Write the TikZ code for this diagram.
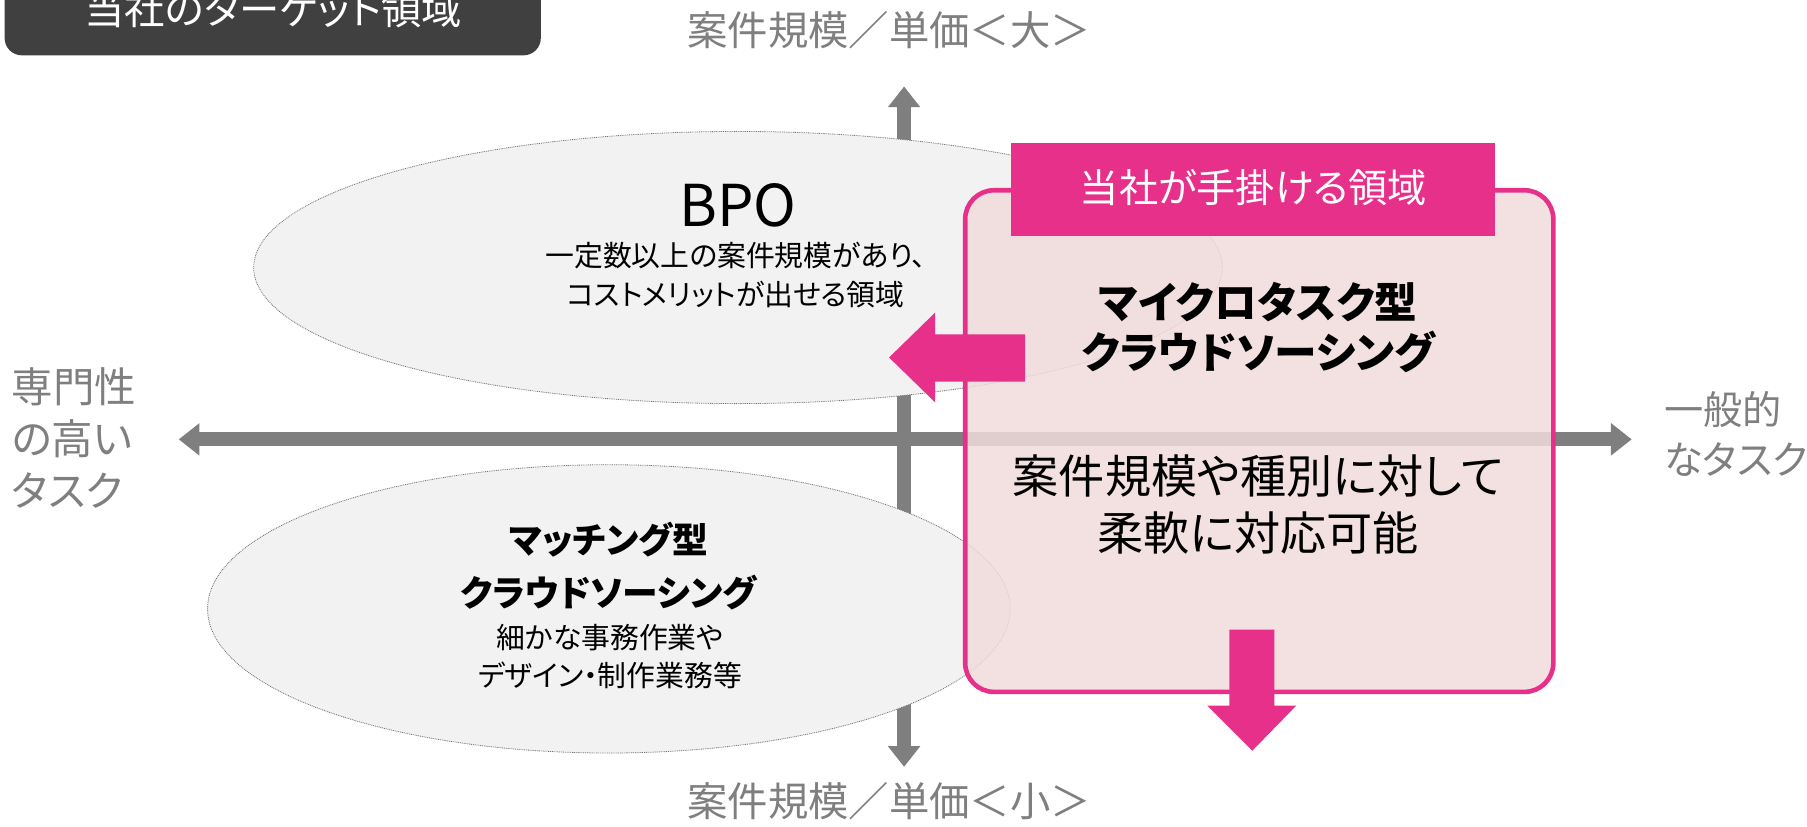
\documentclass[tikz,border=0pt]{standalone}
\usepackage{fontspec}
\setmainfont{Noto Sans CJK JP}[RawFeature=+palt]
\usetikzlibrary{shapes.geometric,arrows.meta}
\definecolor{axisgray}{HTML}{7F7F7F}
\definecolor{pinkc}{HTML}{E6308A}
\definecolor{boxfill}{RGB}{240,220,219}
\definecolor{ellfill}{HTML}{F2F2F2}
\definecolor{titlebg}{HTML}{404040}
\begin{document}
\begin{tikzpicture}[x=1pt,y=-1pt,
  axisline/.style={draw=axisgray, line width=12pt,
    {Triangle[width=27pt,length=18pt]}-{Triangle[width=27pt,length=18pt]}},
  ell/.style={ellipse, fill=ellfill, draw=black!55, line width=0.7pt,
    dash pattern=on 0.8pt off 0.8pt, inner sep=0pt},
  lbl/.style={text=axisgray, inner sep=0pt},
  txt/.style={text=black, inner sep=0pt, align=center},
  pinkarrow/.style={fill=pinkc, draw=none}]
\useasboundingbox (0,0) rectangle (1567,716.3);

% title
\node[fill=titlebg, rounded corners=15pt, minimum width=465pt, minimum height=80pt, inner sep=0pt] (title) at (236.5,8) {};
\node[text=white, inner sep=0pt, font=\fontsize{35}{40}\selectfont] (titletext) at (237,8) {当社のターゲット領域};

% axes
\coordinate (atop) at (784,75);
\coordinate (abot) at (784,665);
\coordinate (aleft) at (155,381);
\coordinate (aright) at (1415,381);
\draw[axisline] (aleft) -- (aright);
\draw[axisline] (atop) -- (abot);

% axis labels
\node[lbl, font=\fontsize{35}{40}\selectfont] (ltop) at (771,26.5) {案件規模／単価＜大＞};
\node[lbl, font=\fontsize{35}{40}\selectfont] (lbot) at (771,695) {案件規模／単価＜小＞};
\node[lbl, anchor=west, align=left, font=\fontsize{36}{45}\selectfont] (lleft) at (10,380) {専門性\\の高い\\タスク};
\node[lbl, anchor=west, align=left, font=\fontsize{34}{43}\selectfont] (lright) at (1443,376.5) {一般的\\なタスク};

% ellipses
\node[ell, minimum width=840pt, minimum height=236pt] (bpo) at (640,232) {};
\node[ell, minimum width=696pt, minimum height=250pt] (match) at (528,528) {};

\node[txt, font=\fontsize{50}{56}\selectfont] (bpot) at (640,178) {BPO};
\node[txt, font=\fontsize{25}{33}\selectfont] (bpod) at (638,238.5) {一定数以上の案件規模があり、\\コストメリットが出せる領域};
\node[txt, font=\bfseries\fontsize{31}{46}\selectfont] (matcht) at (528,491) {マッチング型\\クラウドソーシング};
\node[txt, font=\fontsize{25}{33}\selectfont] (matchd) at (529,569.5) {細かな事務作業や\\デザイン・制作業務等};

% pink box
\node[draw=pinkc, line width=4pt, rounded corners=25pt, fill=boxfill, fill opacity=0.85,
  minimum width=510pt, minimum height=435pt, inner sep=0pt] (box) at (1092,382.5) {};
\node[fill=pinkc, minimum width=419pt, minimum height=81pt, inner sep=0pt] (head) at (1086.5,164.5) {};
\node[text=white, inner sep=0pt, font=\fontsize{34}{40}\selectfont] (headt) at (1087,163) {当社が手掛ける領域};

\node[txt, font=\bfseries\fontsize{37}{44}\selectfont] (micro) at (1091,284) {マイクロタスク型\\クラウドソーシング};
\node[txt, font=\fontsize{40}{49}\selectfont] (flex) at (1091,437.5) {案件規模や種別に対して\\柔軟に対応可能};

% pink block arrows
\fill[pinkarrow] (889,290) -- (811,290) -- (811,271) -- (771,310) -- (811,349) -- (811,331) -- (889,331) -- cycle;
\fill[pinkarrow] (1066,546) -- (1105,546) -- (1105,612) -- (1124,612) -- (1086,651) -- (1047,612) -- (1066,612) -- cycle;
\end{tikzpicture}
\end{document}
